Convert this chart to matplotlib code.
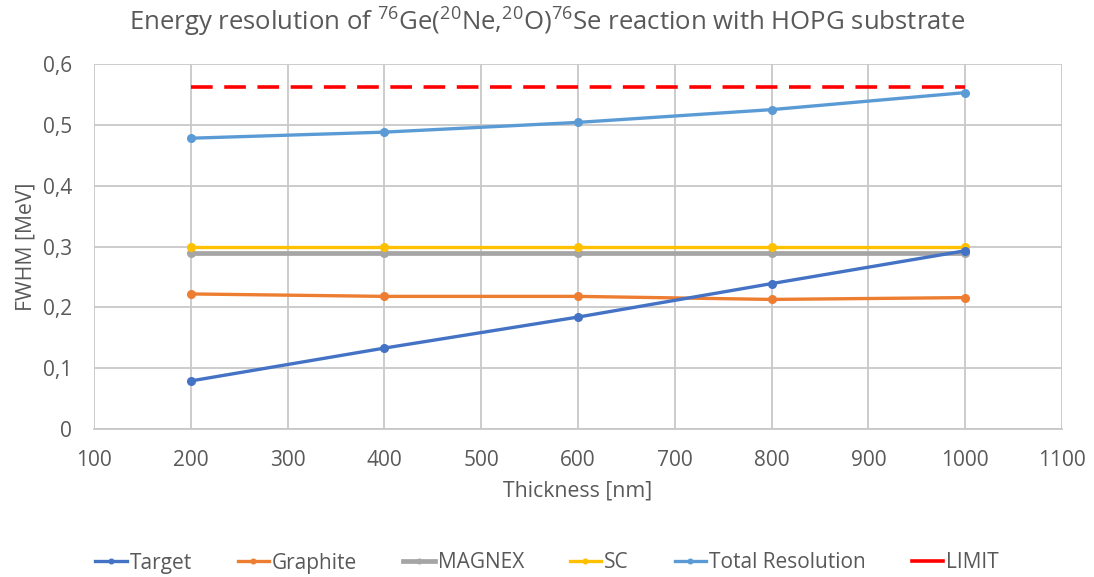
import matplotlib
matplotlib.use("Agg")
import matplotlib.pyplot as plt

thickness = [200, 400, 600, 800, 1000]
target = [0.079, 0.133, 0.184, 0.239, 0.293]
graphite = [0.222, 0.218, 0.218, 0.213, 0.216]
magnex = [0.289, 0.289, 0.289, 0.289, 0.289]
sc = [0.300, 0.300, 0.300, 0.300, 0.300]
total = [0.478, 0.488, 0.504, 0.525, 0.553]
limit = [0.562, 0.562, 0.562, 0.562, 0.562]

yticks = [0, 0.1, 0.2, 0.3, 0.4, 0.5, 0.6]
ytick_labels = ["0", "0,1", "0,2", "0,3", "0,4", "0,5", "0,6"]
xticks = [100, 200, 300, 400, 500, 600, 700, 800, 900, 1000, 1100]

plt.rcParams['font.family'] = ['Open Sans', 'DejaVu Sans']
plt.rcParams['mathtext.fontset'] = 'custom'
plt.rcParams['mathtext.rm'] = 'Open Sans'
plt.rcParams['mathtext.it'] = 'Open Sans'
plt.rcParams['mathtext.bf'] = 'Open Sans'

txt = '#595959'
fig = plt.figure(figsize=(10.94, 5.77), dpi=100)
ax = fig.add_axes([94/1094, 1-429/577, (1062-94)/1094, (429-64)/577])

lw = 2.4
ms = 5.5
ax.plot(thickness, target, color='#4472C4', lw=lw, marker='o', ms=ms, label='Target', zorder=5)
ax.plot(thickness, graphite, color='#ED7D31', lw=lw, marker='o', ms=ms, label='Graphite', zorder=4)
ax.plot(thickness, magnex, color='#A5A5A5', lw=lw+1, marker='o', ms=ms, label='MAGNEX', zorder=3)
ax.plot(thickness, sc, color='#FFC000', lw=lw, marker='o', ms=ms, label='SC', zorder=4)
ax.plot(thickness, total, color='#5B9BD5', lw=lw, marker='o', ms=ms, label='Total Resolution', zorder=4)
ax.plot(thickness, limit, color='#FF0000', lw=2.6, ls=(0, (6, 3.2)), label='LIMIT', zorder=4)

ax.set_xlim(100, 1100)
ax.set_ylim(0, 0.6)
ax.set_xticks(xticks)
ax.set_yticks(yticks)
ax.set_yticklabels(ytick_labels)
ax.grid(True, color='#C8C8C8', lw=1.3)
ax.set_axisbelow(True)
for s in ['top', 'right', 'left']:
    ax.spines[s].set_visible(False)
ax.spines['bottom'].set_color('#C8C8C8')
ax.spines['bottom'].set_linewidth(1.3)
ax.tick_params(axis='x', length=0, labelsize=15, colors=txt, pad=15)
ax.tick_params(axis='y', length=0, labelsize=15, colors=txt, pad=16)

ax.set_xlabel('Thickness [nm]', fontsize=15.3, color=txt, labelpad=7)
ax.set_ylabel('FWHM [MeV]', fontsize=15.3, color=txt, labelpad=4)
fig.text(0.5, 1-22/577, r'Energy resolution of $^{76}$Ge($^{20}$Ne,$^{20}$O)$^{76}$Se reaction with HOPG substrate',
         ha='center', va='center', fontsize=18.5, color=txt)

leg = fig.legend(loc='center', bbox_to_anchor=(0.5, 1-563/577), ncol=6, frameon=False,
                 fontsize=15, handlelength=1.5, columnspacing=2.2, handletextpad=0.15,
                 markerscale=0.6)
for t in leg.get_texts():
    t.set_color(txt)
leg.get_lines()[5].set_linestyle('-')

fig.savefig('out.png', dpi=100)
